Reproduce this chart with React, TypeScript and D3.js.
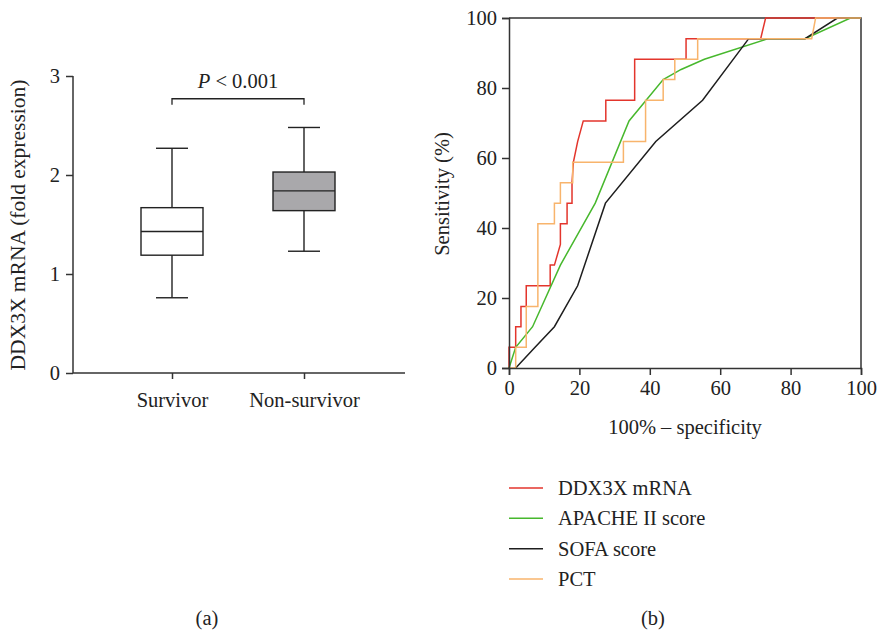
import * as d3 from "d3";
import { useEffect, useRef } from "react";

// panel (a) box plot
const groups = ["Survivor", "Non-survivor"];
const survivorBox = [0.76, 1.19, 1.43, 1.67, 2.27]; // min, q1, median, q3, max
const nonSurvivorBox = [1.23, 1.64, 1.84, 2.03, 2.48];
const boxFills = ["#ffffff", "#a9a8ab"];
const boxTicks = [0, 1, 2, 3];

// panel (b) ROC curves, [100% - specificity, sensitivity]
const ddx3xRoc = [
    [0, 0], [0, 5.9], [1.9, 5.9], [1.9, 11.8], [3.4, 11.8], [3.4, 17.6], [4.9, 17.6], [4.9, 23.5],
    [11.7, 23.5], [11.7, 29.4], [12.9, 29.4], [14.6, 35.3], [14.6, 41.2], [16.5, 41.2], [16.5, 47.1],
    [17.9, 47.1], [17.9, 52.9], [18.3, 58.8], [19.5, 64.7], [21.1, 70.6], [27.5, 70.6], [27.5, 76.5],
    [35.7, 76.5], [35.7, 88.2], [50.3, 88.2], [50.3, 94.1], [71.5, 94.1], [72.9, 100], [100, 100]
];
const apacheRoc = [
    [0, 0], [1.9, 5.9], [6.7, 11.8], [14.6, 29.4], [24.5, 47.1], [34.1, 70.6], [43.8, 82.4],
    [48.9, 85.3], [55.5, 88.2], [73.6, 94.1], [84.1, 94.1], [97, 100], [100, 100]
];
const sofaRoc = [
    [1.9, 0], [7.4, 5.9], [12.9, 11.8], [19.5, 23.5], [27.4, 47.1], [41.7, 64.7], [55, 76.5],
    [68.1, 94.1], [84.1, 94.1], [93.3, 100], [100, 100]
];
const pctRoc = [
    [0, 0], [1.9, 0], [1.9, 5.9], [4.9, 5.9], [4.9, 17.6], [8.2, 17.6], [8.2, 41.2], [12.9, 41.2],
    [12.9, 47.1], [14.6, 47.1], [14.6, 52.9], [18.1, 52.9], [18.1, 58.8], [32.5, 58.8], [32.5, 64.7],
    [38.8, 64.7], [38.8, 76.5], [43.8, 76.5], [43.8, 82.4], [47.1, 82.4], [47.1, 88.2], [53.6, 88.2],
    [53.6, 94.1], [86, 94.1], [87.1, 100], [100, 100]
];
const rocNames = ["DDX3X mRNA", "APACHE II score", "SOFA score", "PCT"];
const rocColors = ["#e3352c", "#47b82d", "#1e1e1e", "#f8b46c"];
const rocTicks = [0, 20, 40, 60, 80, 100];

const font = "'Liberation Serif', 'DejaVu Serif', serif";
const axisColor = "#333";
const fs = "20.5px";

export default function App() {
    const svgRef = useRef(null);

    useEffect(() => {
        const svg = d3.select(svgRef.current);
        svg.selectAll("*").remove();

        // ---------- (a) ----------
        const yA = d3.scaleLinear().domain([0, 3]).range([373, 76]);
        const xA = d3.scalePoint().domain(groups).range([172, 304]);
        const a = svg.append("g");

        a.append("g")
            .attr("transform", "translate(73,0)")
            .call(d3.axisLeft(yA).tickValues(boxTicks).tickFormat(d3.format("d")).tickSize(7).tickPadding(6))
            .call(g => g.select(".domain").attr("d", "M0,76V373"));
        a.append("g")
            .attr("transform", "translate(0,373)")
            .call(d3.axisBottom(xA).tickSize(6).tickPadding(13))
            .call(g => g.select(".domain").attr("d", "M73,0H405"));

        a.selectAll(".tick line").attr("stroke", axisColor).attr("stroke-width", 1.5);
        a.selectAll(".domain").attr("stroke", axisColor).attr("stroke-width", 1.5);
        a.selectAll(".tick text").style("font-family", font).style("font-size", fs).attr("fill", "#222");

        const boxes = [survivorBox, nonSurvivorBox];
        boxes.forEach((b, i) => {
            const cx = xA(groups[i]) as number;
            const g = a.append("g").attr("stroke", "#222").attr("stroke-width", 1.4);
            g.append("line").attr("x1", cx).attr("x2", cx).attr("y1", yA(b[0])).attr("y2", yA(b[4]));
            g.append("line").attr("x1", cx - 16).attr("x2", cx + 16).attr("y1", yA(b[0])).attr("y2", yA(b[0]));
            g.append("line").attr("x1", cx - 16).attr("x2", cx + 16).attr("y1", yA(b[4])).attr("y2", yA(b[4]));
            g.append("rect")
                .attr("x", cx - 31).attr("width", 62)
                .attr("y", yA(b[3])).attr("height", yA(b[1]) - yA(b[3]))
                .attr("fill", boxFills[i]);
            g.append("line").attr("x1", cx - 31).attr("x2", cx + 31).attr("y1", yA(b[2])).attr("y2", yA(b[2]));
        });

        // significance bracket
        const bracketY = yA(2.77);
        const x1 = xA(groups[0]) as number, x2 = xA(groups[1]) as number;
        a.append("path")
            .attr("d", `M${x1},${bracketY + 6}V${bracketY}H${x2}V${bracketY + 6}`)
            .attr("fill", "none").attr("stroke", "#222").attr("stroke-width", 1.3);
        const pText = a.append("text")
            .attr("x", (x1 + x2) / 2).attr("y", bracketY - 11)
            .attr("text-anchor", "middle")
            .style("font-family", font).style("font-size", fs).attr("fill", "#222");
        pText.append("tspan").style("font-style", "italic").text("P");
        pText.append("tspan").text(" < 0.001");

        a.append("text")
            .attr("text-anchor", "middle")
            .attr("transform", "translate(25,225)rotate(-90)")
            .style("font-family", font).style("font-size", "21.5px").attr("fill", "#222")
            .text("DDX3X mRNA (fold expression)");

        a.append("text").attr("x", 207).attr("y", 625).attr("text-anchor", "middle")
            .style("font-family", font).style("font-size", fs).attr("fill", "#222").text("(a)");

        // ---------- (b) ----------
        const xB = d3.scaleLinear().domain([0, 100]).range([509, 861]);
        const yB = d3.scaleLinear().domain([0, 100]).range([368, 18]);
        const b = svg.append("g");

        // frame top/right
        b.append("path")
            .attr("d", `M${xB(0)},${yB(100)}H${xB(100)}V${yB(0)}`)
            .attr("fill", "none").attr("stroke", axisColor).attr("stroke-width", 1.5);

        const line = d3.line<number[]>().x(d => xB(d[0])).y(d => yB(d[1]));
        [ddx3xRoc, apacheRoc, sofaRoc, pctRoc].forEach((data, i) => {
            b.append("path")
                .attr("d", line(data))
                .attr("fill", "none")
                .attr("stroke", rocColors[i])
                .attr("stroke-width", 1.5);
        });

        b.append("g")
            .attr("transform", `translate(0,${yB(0)})`)
            .call(d3.axisBottom(xB).tickValues(rocTicks).tickSize(7).tickPadding(5));
        b.append("g")
            .attr("transform", `translate(${xB(0)},0)`)
            .call(d3.axisLeft(yB).tickValues(rocTicks).tickSize(7).tickPadding(5));

        b.selectAll(".tick line").attr("stroke", axisColor).attr("stroke-width", 1.5);
        b.selectAll(".domain").attr("stroke", axisColor).attr("stroke-width", 1.5);
        b.selectAll(".tick text").style("font-family", font).style("font-size", fs).attr("fill", "#222");

        b.append("text").attr("x", 685).attr("y", 434).attr("text-anchor", "middle")
            .style("font-family", font).style("font-size", fs).attr("fill", "#222")
            .text("100% \u2013 specificity");
        b.append("text")
            .attr("text-anchor", "middle")
            .attr("transform", "translate(449,194)rotate(-90)")
            .style("font-family", font).style("font-size", fs).attr("fill", "#222")
            .text("Sensitivity (%)");

        // legend
        const legY = d3.scalePoint().domain(rocNames).range([488, 579]);
        rocNames.forEach((name, i) => {
            const y = legY(name) as number;
            b.append("line").attr("x1", 509).attr("x2", 543).attr("y1", y).attr("y2", y)
                .attr("stroke", rocColors[i]).attr("stroke-width", 1.5);
            b.append("text").attr("x", 558).attr("y", y + 7)
                .style("font-family", font).style("font-size", fs).attr("fill", "#222")
                .text(name);
        });

        b.append("text").attr("x", 653).attr("y", 625).attr("text-anchor", "middle")
            .style("font-family", font).style("font-size", fs).attr("fill", "#222").text("(b)");
    }, []);

    return (
        <svg ref={svgRef} width={878} height={631}
            style={{ position: "absolute", left: 0, top: 0, background: "#fff" }}>
        </svg>
    );
}
